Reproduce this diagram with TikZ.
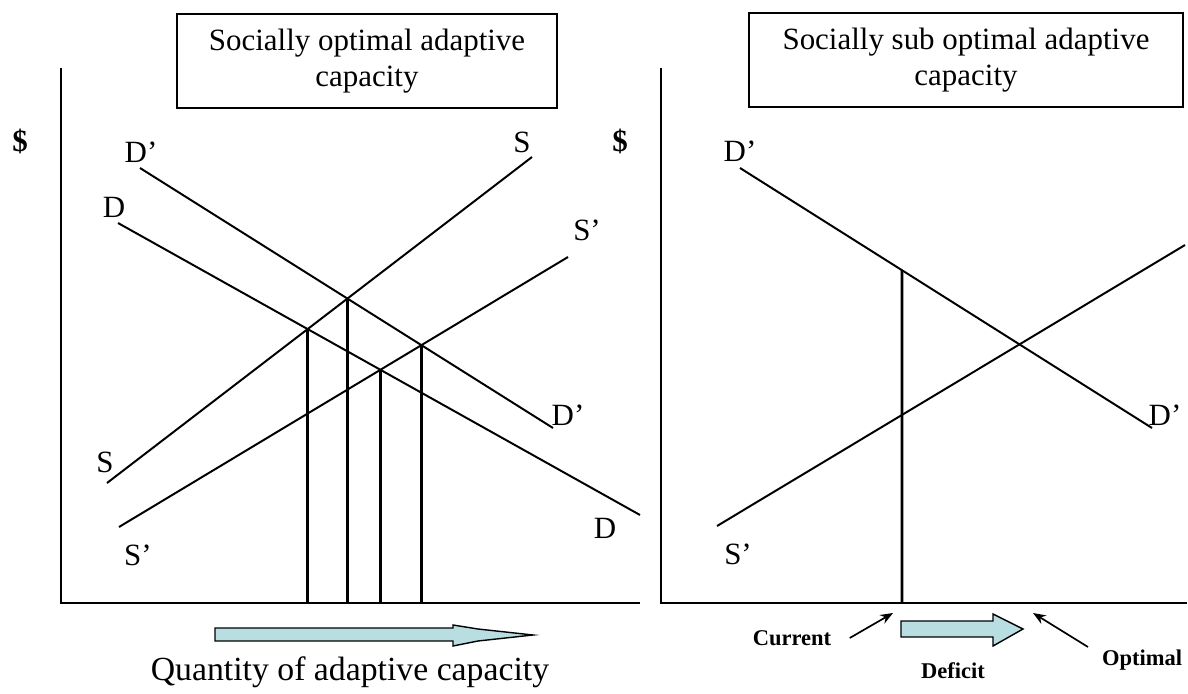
\documentclass[tikz,border=0pt]{standalone}
\usepackage{fontspec}
\setmainfont{Liberation Serif}
\usetikzlibrary{arrows.meta, intersections, positioning}
\definecolor{arrowfill}{HTML}{B8DEE2}

\begin{document}
\begin{tikzpicture}[
    x=0.025cm, y=-0.025cm,
    axis/.style={line width=2pt},
    curve/.style={line width=1.4pt},
    level/.style={line width=2pt},
    title/.style={rectangle, draw, line width=1.3pt, minimum height=2.35cm,
                  align=center, font=\fontsize{22}{26}\selectfont},
    tag/.style={font=\fontsize{22}{26}\selectfont, inner sep=0pt},
    dollar/.style={font=\fontsize{22}{26}\selectfont\bfseries, inner sep=0pt},
    note/.style={font=\fontsize{16}{18}\selectfont\bfseries, inner sep=0pt},
    pointer/.style={-{Stealth[length=9pt, width=7pt]}, line width=1.2pt},
    fatarrow/.style={draw, line width=1pt, fill=arrowfill}
]
\useasboundingbox (0,0) rectangle (1188,694);

% Titles
\node[title, minimum width=9.5cm] at (367,61) (lefttitle)
    {Socially optimal adaptive\\capacity};
\node[title, minimum width=10.85cm] at (966,60) (righttitle)
    {Socially sub optimal adaptive\\capacity};

% Left axes
\coordinate (ltop) at (61,68);
\coordinate (lorigin) at (61,603);
\coordinate (lend) at (640,603);
\draw[axis] (ltop) -- (lorigin) -- (lend);
\node[dollar] at (20,141) (ldollar) {\$};

% Left curves
\coordinate (ldpa) at (140,168);  \coordinate (ldpb) at (553,428);
\coordinate (lda) at (118,223);   \coordinate (ldb) at (640,515);
\coordinate (lsa) at (107,483);   \coordinate (lsb) at (532,157);
\coordinate (lspa) at (119,527);  \coordinate (lspb) at (568,257);
\draw[curve, name path=ldp] (ldpa) -- (ldpb);
\draw[curve, name path=ld] (lda) -- (ldb);
\draw[curve, name path=ls] (lsa) -- (lsb);
\draw[curve, name path=lsp] (lspa) -- (lspb);

\node[tag] at (141,152) (ldptop) {D’};
\node[tag] at (568,415) (ldpend) {D’};
\node[tag] at (114,207) (ldtop) {D};
\node[tag] at (605,528) (ldend) {D};
\node[tag] at (105,462) (lslow) {S};
\node[tag] at (522,142) (lshigh) {S};
\node[tag] at (138,555) (lsplow) {S’};
\node[tag] at (587,230) (lsphigh) {S’};

% Equilibria
\path[name intersections={of=ls and ld, by=qa}];
\path[name intersections={of=ls and ldp, by=qb}];
\path[name intersections={of=lsp and ld, by=qc}];
\path[name intersections={of=lsp and ldp, by=qd}];
\foreach \q in {qa, qb, qc, qd}
    \draw[level] (\q) -- (\q |- lorigin);

% Quantity arrow
\draw[fatarrow] (215,628) -- (453,628) -- (453,625) -- (478,629) -- (533,635)
    -- (478,641) -- (453,646) -- (453,641) -- (215,641) -- cycle;
\node[font=\fontsize{24}{28}\selectfont] at (350,672) (quantity)
    {Quantity of adaptive capacity};

% Right axes
\coordinate (rtop) at (661,68);
\coordinate (rorigin) at (661,603);
\coordinate (rend) at (1187,603);
\draw[axis] (rtop) -- (rorigin) -- (rend);
\node[dollar] at (620,141) (rdollar) {\$};

% Right curves
\coordinate (rdpa) at (740,168);  \coordinate (rdpb) at (1152,428);
\coordinate (rspa) at (717,526);  \coordinate (rspb) at (1185,245);
\draw[curve, name path=rdp] (rdpa) -- (rdpb);
\draw[curve] (rspa) -- (rspb);

\node[tag] at (740,151) (rdptop) {D’};
\node[tag] at (1165,415) (rdpend) {D’};
\node[tag] at (738,554) (rsplow) {S’};

% Current level
\coordinate (rcur) at (902,603);
\path[name path=rcut] (rcur) -- (902,100);
\path[name intersections={of=rdp and rcut, by=rq}];
\draw[level] (rcur) -- (rq);

% Deficit
\draw[fatarrow] (901,621) -- (993,621) -- (993,614) -- (1023,629)
    -- (993,646) -- (993,637) -- (901,637) -- cycle;
\node[note] at (953,671) (deficit) {Deficit};
\node[note] at (792,638) (current) {Current};
\node[note] at (1142,660) (optimal) {Optimal};
\coordinate (curtip) at (893,613);
\coordinate (opttip) at (1033,613);
\draw[pointer] ([xshift=13pt]current.east) -- (curtip);
\draw[pointer] (1088,647) -- (opttip);

\end{tikzpicture}
\end{document}
